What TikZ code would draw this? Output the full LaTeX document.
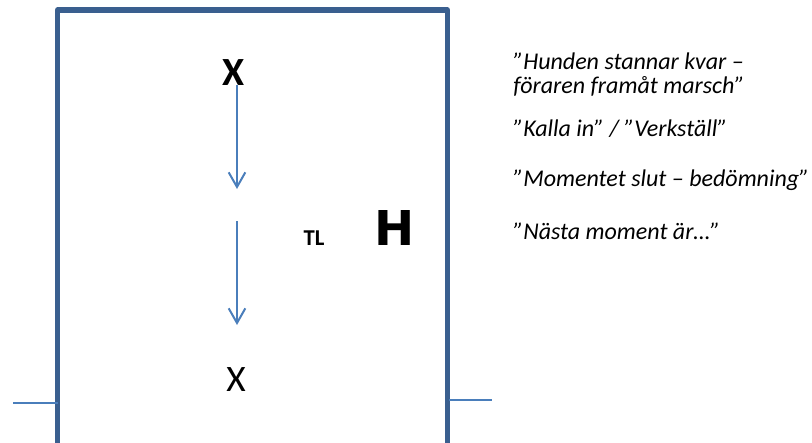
\documentclass[tikz,border=0pt]{standalone}
\usepackage{fontspec}
\setmainfont{Carlito}
\newfontfamily\heavyfont{DejaVu Sans}
\usepackage{xcolor}
\usetikzlibrary{arrows.meta,calc}
\definecolor{ringblue}{HTML}{3A5F8F}
\definecolor{pathblue}{HTML}{4A7EBB}

\begin{document}
\begin{tikzpicture}[x=0.75pt,y=-0.75pt,
ring/.style={draw=ringblue,line width=3.8pt,line cap=rect,line join=round},
tick/.style={draw=pathblue,line width=1.5pt},
walk/.style={draw=pathblue,line width=1.5pt,-{Straight Barb[length=11pt,width=12.5pt,line width=1.5pt]}},
cmd/.style={font=\itshape\fontsize{18}{18}\selectfont,anchor=west,align=left,inner sep=0pt}]
	\useasboundingbox (0,0) rectangle (812,442);
	%ring
	\draw[ring] (57.5,445) -- (57.5,10) -- (447.5,10) -- (447.5,445);
	\coordinate (tl1) at (13,403);
	\coordinate (tl2) at (58,403);
	\coordinate (tr1) at (449,400);
	\coordinate (tr2) at (492,400);
	\draw[tick] (tl1) -- (tl2);
	\draw[tick] (tr1) -- (tr2);
	%positions
	\node[font=\bfseries\fontsize{30}{30}\selectfont,inner sep=0pt] at (234,73) (start) {X};
	\node[font=\fontsize{28}{28}\selectfont,inner sep=0pt] at (236,380) (stop) {X};
	\node[font=\bfseries\fontsize{17}{17}\selectfont,inner sep=0pt] at (314,238) (judge) {TL};
	\node[font=\heavyfont\bfseries\fontsize{36}{36}\selectfont,inner sep=0pt] at (395,228) (dog) {H};
	%walk
	\coordinate (w1) at (237,85);
	\coordinate (w2) at (237,189);
	\coordinate (w3) at (237,221);
	\coordinate (w4) at (237,325);
	\draw[walk] (w1) -- (w2);
	\draw[walk] (w3) -- (w4);
	%commands
	\node[cmd] at (513,75) (stay) {”Hunden stannar kvar –\\föraren framåt marsch”};
	\node[cmd] at (513,129) (call) {”Kalla in” / ”Verkställ”};
	\node[cmd] at (513,180) (done) {”Momentet slut – bedömning”};
	\node[cmd] at (513,231) (next) {”Nästa moment är…”};
\end{tikzpicture}
\end{document}
